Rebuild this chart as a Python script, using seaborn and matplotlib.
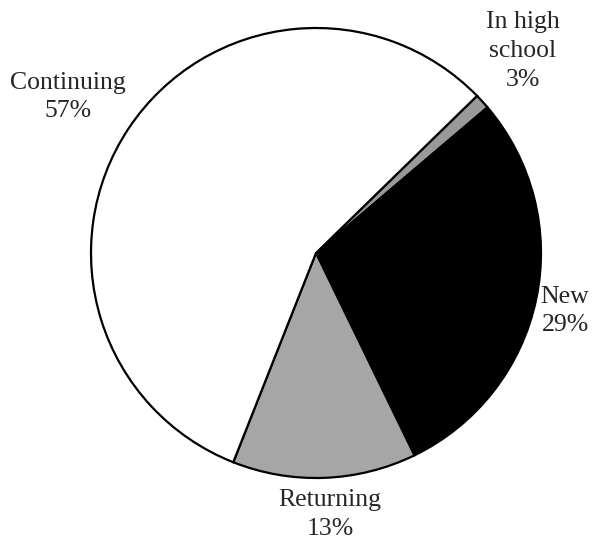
"""Pie chart of student status shares."""
import matplotlib
matplotlib.use('Agg')
import matplotlib.pyplot as plt
import seaborn as sns

# slice shares as drawn (clockwise from upper right) and their printed labels
categories = ['In high\nschool', 'New', 'Returning', 'Continuing']
shares = [1.1, 29.0, 13.2, 56.7]
pct_labels = ['3%', '29%', '13%', '57%']
colors = ['#999999', '#000000', '#a6a6a6', '#ffffff']

# label anchor points (in pie radius units)
label_x = [0.92, 1.107, 0.062, -1.102]
label_y = [0.898, -0.258, -1.164, 0.693]

sns.set_style('white')
plt.rcParams['font.family'] = ['Liberation Serif', 'DejaVu Serif']

figure = plt.figure(figsize=(5.92, 5.48), dpi=100)
axes = figure.add_axes([0, 0, 1, 1])

axes.pie(shares, colors=colors, startangle=44.3, counterclock=False,
         wedgeprops=dict(edgecolor='black', linewidth=1.6))

# place category name and percentage beside each slice
for name, pct, x, y in zip(categories, pct_labels, label_x, label_y):
    axes.text(x, y, f'{name}\n{pct}', ha='center', va='center',
              fontsize=18.5, linespacing=1.4)

axes.set_xlim(-316 / 225, 276 / 225)
axes.set_ylim(-295 / 225, 253 / 225)
axes.set_aspect('equal', adjustable='box')
axes.axis('off')

figure.savefig('out.png', dpi=100, facecolor='white')
